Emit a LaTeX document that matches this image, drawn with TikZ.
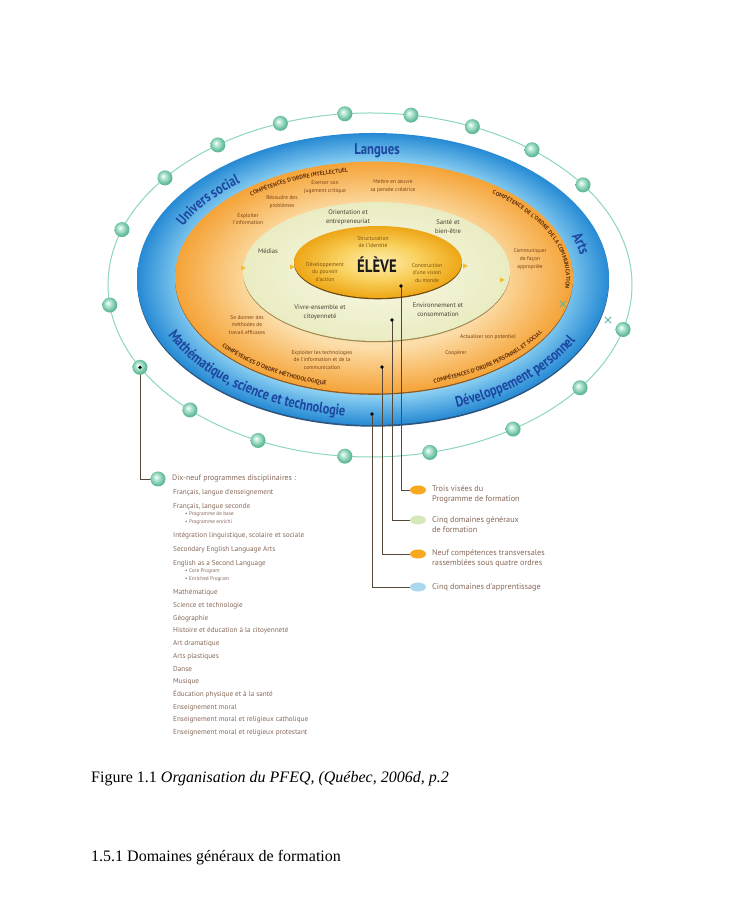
\documentclass[tikz,border=0pt]{standalone}
\usepackage{fontspec}
\setmainfont{Liberation Serif}
\newfontfamily\dia{PT Sans}
\newfontfamily\diac[FakeStretch=0.82]{PT Sans}
\usetikzlibrary{calc,decorations.text,shapes.geometric}
\definecolor{bluel}{RGB}{140,208,242}
\definecolor{blued}{RGB}{38,138,212}
\definecolor{blueshd}{RGB}{45,85,125}
\definecolor{orl}{RGB}{252,222,170}
\definecolor{ord}{RGB}{245,163,55}
\definecolor{orshd}{RGB}{140,90,35}
\definecolor{crl}{RGB}{250,249,232}
\definecolor{crd}{RGB}{234,236,194}
\definecolor{crshd}{RGB}{160,135,80}
\definecolor{gol}{RGB}{253,238,180}
\definecolor{gom}{RGB}{249,210,95}
\definecolor{god}{RGB}{238,166,22}
\definecolor{goshd}{RGB}{110,75,15}
\definecolor{labblue}{RGB}{28,70,160}
\definecolor{compc}{RGB}{100,50,12}
\definecolor{otc}{RGB}{125,65,20}
\definecolor{ctc}{RGB}{70,65,50}
\definecolor{gtc}{RGB}{125,80,15}
\definecolor{ringc}{RGB}{140,214,194}
\definecolor{beadl}{RGB}{200,240,225}
\definecolor{beadm}{RGB}{95,185,150}
\definecolor{connc}{RGB}{85,70,55}
\definecolor{listc}{RGB}{135,105,90}
\definecolor{ovor}{RGB}{247,168,30}
\definecolor{ovgr}{RGB}{214,232,185}
\definecolor{ovbl}{RGB}{170,216,238}
\definecolor{marky}{RGB}{245,190,50}
\definecolor{tealx}{RGB}{90,180,170}
\pgfdeclareradialshading{bluesh}{\pgfpoint{0bp}{0bp}}{color(0bp)=(bluel); color(20bp)=(bluel); color(25bp)=(blued); color(50bp)=(blued)}
\pgfdeclareradialshading{orsh}{\pgfpoint{0bp}{0bp}}{color(0bp)=(orl); color(15bp)=(orl); color(25bp)=(ord); color(50bp)=(ord)}
\pgfdeclareradialshading{crsh}{\pgfpoint{0bp}{0bp}}{color(0bp)=(crl); color(25bp)=(crd); color(50bp)=(crd)}
\pgfdeclareradialshading{gosh}{\pgfpoint{0bp}{0bp}}{color(0bp)=(gol); color(12bp)=(gom); color(25bp)=(god); color(50bp)=(god)}
\pgfdeclareradialshading{beadsh}{\pgfpoint{-7bp}{7bp}}{color(0bp)=(white); color(6bp)=(beadl); color(24bp)=(beadm); color(50bp)=(beadm)}
\begin{document}
\begin{tikzpicture}[x=1pt,y=1pt,
  bead/.style={circle, shade, shading=beadsh, minimum size=15pt, inner sep=0pt},
  ringline/.style={draw=ringc, line width=1pt},
  conn/.style={draw=connc, line width=0.9pt},
  otx/.style={font=\dia\fontsize{5.5}{7.8}\selectfont, text=otc, align=center, inner sep=0pt},
  ctx/.style={font=\dia\fontsize{6.6}{8.8}\selectfont, text=ctc, align=center, inner sep=0pt},
  gtx/.style={font=\dia\fontsize{5.6}{7.4}\selectfont, text=gtc, align=center, inner sep=0pt},
  listtxt/.style={anchor=west, font=\dia\fontsize{7.2}{8}\selectfont, text=listc, inner sep=0pt},
  subtxt/.style={anchor=west, font=\dia\fontsize{5.3}{6}\selectfont, text=listc, inner sep=0pt},
  legtxt/.style={anchor=west, font=\dia\fontsize{8.2}{10.5}\selectfont, text=listc, align=left, inner sep=0pt},
  legov/.style={ellipse, minimum width=16pt, minimum height=9pt, inner sep=0pt},
  caption/.style={anchor=base west, inner sep=0pt, font=\fontsize{16}{18}\selectfont}
]
\useasboundingbox (0,0) rectangle (738,899);
\fill[white] (0,0) rectangle (738,899);

% ring of beads
\coordinate (RC) at (370,614);
\draw[ringline] (RC) ellipse[x radius=262, y radius=172];

% blue domain ring
\fill[blueshd] (373,618.3) ellipse[x radius=236, y radius=146];
\shade[shading=bluesh] (373,620) ellipse[x radius=236, y radius=146];
% orange ring
\fill[orshd] (374,620.2) ellipse[x radius=199, y radius=116];
\shade[shading=orsh] (374,621.5) ellipse[x radius=199, y radius=116];
% cream ring
\fill[crshd] (376.5,626.3) ellipse[x radius=133.5, y radius=69.5];
\shade[shading=crsh] (376.5,627.5) ellipse[x radius=133.5, y radius=69.5];
% gold centre
\fill[goshd] (378,635.7) ellipse[x radius=84, y radius=36];
\shade[shading=gosh] (378,637) ellipse[x radius=84, y radius=36];

% small marks
\fill[marky] (246,631) -- ++(-5,2.5) -- ++(0,-5) -- cycle;
\fill[marky] (295,632) -- ++(-5,2.5) -- ++(0,-5) -- cycle;
\fill[marky] (468,633) -- ++(-5,2.5) -- ++(0,-5) -- cycle;
\fill[marky] (505,619) -- ++(-5,2.5) -- ++(0,-5) -- cycle;
\draw[tealx, line width=0.9pt] (560,592) -- (566,598) (560,598) -- (566,592);
\draw[tealx, line width=0.9pt] (605,576) -- (611,582) (605,582) -- (611,576);

% domain labels (blue band)
\coordinate (BC) at (374,621);
\node[font=\diac\bfseries\fontsize{15.5}{15.5}\selectfont, text=labblue] (lang) at (377,748) {Langues};
\path[decorate, decoration={text along path, text align=center, text color=labblue,
  text={|\diac\bfseries\fontsize{15}{15}\selectfont|Univers social}}]
  ($(BC)+(178:210 and 123)$) arc[start angle=178, end angle=114, x radius=210, y radius=123];
\path[decorate, decoration={text along path, text align=center, text color=labblue,
  text={|\diac\bfseries\fontsize{15}{15}\selectfont|Arts}}]
  ($(BC)+(34:210 and 123)$) arc[start angle=34, end angle=-6, x radius=210, y radius=123];
\path[decorate, decoration={text along path, text align=center, text color=labblue,
  text={|\diac\bfseries\fontsize{15}{15}\selectfont|Mathématique, science et technologie}}]
  ($(BC)+(190:226 and 139)$) arc[start angle=190, end angle=272, x radius=226, y radius=139];
\path[decorate, decoration={text along path, text align=center, text color=labblue,
  text={|\diac\bfseries\fontsize{15}{15}\selectfont|Développement personnel}}]
  ($(BC)+(280:226 and 139)$) arc[start angle=280, end angle=350, x radius=226, y radius=139];

% competence labels (orange band)
\coordinate (OC) at (374,621.5);
\path[decorate, decoration={text along path, text align=center, text color=compc,
  text={|\dia\bfseries\fontsize{5.8}{5.8}\selectfont|COMPÉTENCES D'ORDRE INTELLECTUEL}}]
  ($(OC)+(142:192 and 106)$) arc[start angle=142, end angle=88, x radius=192, y radius=106];
\path[decorate, decoration={text along path, text align=center, text color=compc,
  text={|\dia\bfseries\fontsize{5.8}{5.8}\selectfont|COMPÉTENCE DE L'ORDRE DE LA COMMUNICATION}}]
  ($(OC)+(64:192 and 106)$) arc[start angle=64, end angle=-24, x radius=192, y radius=106];
\path[decorate, decoration={text along path, text align=center, text color=compc,
  text={|\dia\bfseries\fontsize{5.8}{5.8}\selectfont|COMPÉTENCES D'ORDRE MÉTHODOLOGIQUE}}]
  ($(OC)+(204:194 and 111)$) arc[start angle=204, end angle=266, x radius=194, y radius=111];
\path[decorate, decoration={text along path, text align=center, text color=compc,
  text={|\dia\bfseries\fontsize{5.8}{5.8}\selectfont|COMPÉTENCES D'ORDRE PERSONNEL ET SOCIAL}}]
  ($(OC)+(280:194 and 111)$) arc[start angle=280, end angle=342, x radius=194, y radius=111];

% competences
\node[otx] (c1) at (325,712) {Exercer son\\jugement critique};
\node[otx] (c2) at (393,713) {Mettre en œuvre\\sa pensée créatrice};
\node[otx] (c3) at (282,697) {Résoudre des\\problèmes};
\node[otx] (c4) at (248,680) {Exploiter\\l'information};
\node[otx] (c5) at (530,640) {Communiquer\\de façon\\appropriée};
\node[otx] (c6) at (247,574) {Se donner des\\méthodes de\\travail efficaces};
\node[otx] (c7) at (322,539) {Exploiter les technologies\\de l'information et de la\\communication};
\node[otx] (c8) at (488,562) {Actualiser son potentiel};
\node[otx] (c9) at (456,546) {Coopérer};

% general domains (cream)
\node[ctx] (g1) at (348,682) {Orientation et\\entrepreneuriat};
\node[ctx] (g2) at (448,672) {Santé et\\bien-être};
\node[ctx] (g3) at (268,648) {Médias};
\node[ctx] (g4) at (320,587) {Vivre-ensemble et\\citoyenneté};
\node[ctx] (g5) at (438,589) {Environnement et\\consommation};

% centre
\node[gtx] (v1) at (373,657) {Structuration\\de l'identité};
\node[gtx] (v2) at (325,627) {Développement\\du pouvoir\\d'action};
\node[gtx] (v3) at (427,626) {Construction\\d'une vision\\du monde};
\node[font=\diac\bfseries\fontsize{18}{18}\selectfont, text=black!90] (eleve) at (377,634) {ÉLÈVE};

% legend connectors (right)
\coordinate (d1) at (401,613);
\coordinate (d2) at (392,579);
\coordinate (d3) at (382,532);
\coordinate (d4) at (372,485);
\node[legov, fill=ovor] (o1) at (418,409) {};
\node[legov, fill=ovgr] (o2) at (418,379) {};
\node[legov, fill=ovor] (o3) at (418,345) {};
\node[legov, fill=ovbl] (o4) at (418,312) {};
\draw[conn] (d1) |- (o1);
\draw[conn] (d2) |- (o2);
\draw[conn] (d3) |- (o3);
\draw[conn] (d4) |- (o4);
\foreach \d in {d1,d2,d3,d4} \fill[black] (\d) circle (1.8);
\node[legtxt] (t1) at (432,404.5) {Trois visées du\\Programme de formation};
\node[legtxt] (t2) at (432,374.5) {Cinq domaines généraux\\de formation};
\node[legtxt] (t3) at (432,340.5) {Neuf compétences transversales\\rassemblées sous quatre ordres};
\node[legtxt] (t4) at (432,312) {Cinq domaines d'apprentissage};

% beads
\foreach \a [count=\i] in {95.5,81,67,51.8,35.6,-15,-36.7,-56.9,-76.8,-95.5,-115.3,-133.4,-173.3,161.2,141.5,125.5,110}
  \node[bead] (b\i) at ($(RC)+(\a:262 and 172)$) {};
\coordinate (bdc) at ($(RC)+(-151.4:262 and 172)$);
\node[bead] (lb) at (158,420) {};
\draw[conn] (bdc) |- (lb);
\node[bead] (bdot) at (bdc) {};
\fill[black] (bdot) circle (1.8);

% list of programmes
\node[listtxt, font=\dia\fontsize{7.9}{9}\selectfont] (p0) at (172,420) {Dix-neuf programmes disciplinaires :};
\node[listtxt] (p1) at (173,406) {Français, langue d'enseignement};
\node[listtxt] (p2) at (173,392) {Français, langue seconde};
\node[subtxt] (p3) at (185,384.5) {• Programme de base};
\node[subtxt] (p4) at (185,377) {• Programme enrichi};
\node[listtxt] (p5) at (173,363) {Intégration linguistique, scolaire et sociale};
\node[listtxt] (p6) at (173,349) {Secondary English Language Arts};
\node[listtxt] (p7) at (173,335) {English as a Second Language};
\node[subtxt] (p8) at (185,327.5) {• Core Program};
\node[subtxt] (p9) at (185,320) {• Enriched Program};
\node[listtxt] (p10) at (173,306) {Mathématique};
\node[listtxt] (p11) at (173,293.3) {Science et technologie};
\node[listtxt] (p12) at (173,280.6) {Géographie};
\node[listtxt] (p13) at (173,267.9) {Histoire et éducation à la citoyenneté};
\node[listtxt] (p14) at (173,255.2) {Art dramatique};
\node[listtxt] (p15) at (173,242.5) {Arts plastiques};
\node[listtxt] (p16) at (173,229.8) {Danse};
\node[listtxt] (p17) at (173,217.1) {Musique};
\node[listtxt] (p18) at (173,204.4) {Éducation physique et à la santé};
\node[listtxt] (p19) at (173,191.7) {Enseignement moral};
\node[listtxt] (p20) at (173,179) {Enseignement moral et religieux catholique};
\node[listtxt] (p21) at (173,166.3) {Enseignement moral et religieux protestant};

% caption
\node[caption] (cap) at (91,116) {Figure 1.1 \textit{Organisation du PFEQ, (Québec, 2006d, p.2}};
\node[caption] (sec) at (91,37) {1.5.1 Domaines généraux de formation};
\end{tikzpicture}
\end{document}
